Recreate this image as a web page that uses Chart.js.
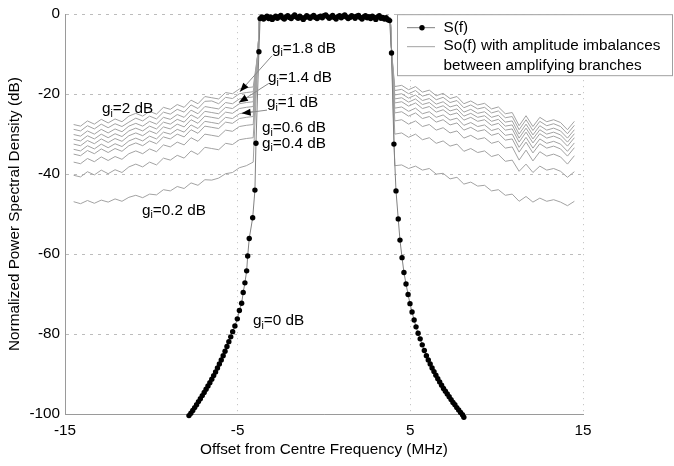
<!DOCTYPE html>
<html>
<head>
<meta charset="utf-8">
<script src="https://cdn.jsdelivr.net/npm/chart.js@4.4.1/dist/chart.umd.min.js"></script>
<style>
html, body { margin: 0; padding: 0; background: #fff; }
</style>
</head>
<body>
<canvas id="psd" width="674" height="466"></canvas>
<script>
// axis ticks
const xTicks = [-15, -5, 5, 15];

// S(f): ideal spectrum (black dots)
const sfX = [
  -7.82, -7.71, -7.60, -7.49, -7.38, -7.27, -7.16, -7.05, -6.94, -6.83, -6.72, -6.61, -6.50, -6.39, -6.28, -6.17, -6.06, -5.95, -5.84, -5.73,
  -5.62, -5.51, -5.40, -5.29, -5.16, -5.02, -4.90, -4.77, -4.68, -4.58, -4.48, -4.42, -4.33, -4.13, -4.00, -3.94, -3.77,
  -3.7, -3.6, -3.5, -3.4, -3.3, -3.2, -3.1, -3.0, -2.9, -2.8, -2.7, -2.6, -2.5, -2.4, -2.3, -2.2, -2.1, -2.0, -1.9, -1.8,
  -1.7, -1.6, -1.5, -1.4, -1.3, -1.2, -1.1, -1.0, -0.9, -0.8, -0.7, -0.6, -0.5, -0.4, -0.3, -0.2, -0.1, 0.0, 0.1, 0.2,
  0.3, 0.4, 0.5, 0.6, 0.7, 0.8, 0.9, 1.0, 1.1, 1.2, 1.3, 1.4, 1.5, 1.6, 1.7, 1.8, 1.9, 2.0, 2.1, 2.2,
  2.3, 2.4, 2.5, 2.6, 2.7, 2.8, 2.9, 3.0, 3.1, 3.2, 3.3, 3.4, 3.5, 3.6, 3.7, 3.8,
  3.91, 4.05, 4.17, 4.30, 4.40, 4.52, 4.63, 4.75, 4.87, 4.98, 5.10, 5.22, 5.33, 5.45, 5.57, 5.69, 5.81, 5.93, 6.04, 6.15,
  6.26, 6.37, 6.48, 6.59, 6.70, 6.81, 6.92, 7.03, 7.14, 7.25, 7.36, 7.47, 7.58, 7.69, 7.80, 7.91, 8.02, 8.10
];
const sfY = [
  -100.4, -99.8, -99.1, -98.4, -97.7, -96.9, -96.2, -95.4, -94.6, -93.8, -93.0, -92.2, -91.3, -90.4, -89.5, -88.5, -87.5, -86.5, -85.4, -84.3,
  -83.1, -81.9, -80.7, -79.4, -78.0, -76.2, -74.1, -72.3, -69.6, -67.2, -64.2, -60.5, -56.1, -50.9, -44.0, -32.3, -9.4,
  -1.1, -0.7, -1.2, -0.8, -0.5, -1.1, -0.7, -1.3, -0.9, -0.5, -1.0, -0.6, -0.3, -0.9, -1.2, -0.7, -0.4, -0.8, -1.1, -0.6,
  -0.2, -0.7, -1.0, -0.5, -0.9, -1.3, -0.8, -0.4, -0.7, -1.0, -0.6, -0.3, -0.8, -1.1, -0.7, -0.5, -0.9, -0.4, -0.2, -0.6,
  -1.0, -0.7, -0.3, -0.8, -1.2, -0.6, -0.4, -0.9, -0.5, -0.2, -0.7, -1.1, -0.8, -0.4, -0.6, -1.0, -0.5, -0.3, -0.8, -1.2,
  -0.7, -0.4, -0.9, -0.6, -1.1, -0.5, -0.8, -1.3, -0.7, -0.4, -1.0, -0.8, -1.2, -0.9, -1.4, -1.6,
  -9.7, -32.5, -44.2, -51.2, -56.5, -60.9, -64.6, -67.5, -70.1, -72.4, -74.5, -76.5, -78.2, -79.8, -81.2, -82.7, -84.1, -85.4, -86.5, -87.5,
  -88.5, -89.4, -90.3, -91.2, -92.0, -92.8, -93.6, -94.3, -95.0, -95.7, -96.4, -97.1, -97.7, -98.4, -99.0, -99.6, -100.2, -100.8
];

// So(f): spectra with amplitude imbalance g_i, shared frequency grid
const soX = [
  -14.5, -14.1, -13.7, -13.3, -12.9, -12.5, -12.1, -11.7, -11.3, -10.9, -10.5, -10.1, -9.7, -9.3, -8.9, -8.5, -8.1, -7.7, -7.3, -6.9, -6.5, -6.1, -5.7, -5.3, -4.9, -4.5, -4.1,
  -3.82, -3.74, 0, 3.84, 3.92,
  4.1, 4.5, 4.9, 5.3, 5.7, 6.1, 6.5, 6.9, 7.3, 7.7, 8.1, 8.5, 8.9, 9.3, 9.7, 10.1, 10.5, 10.9, 11.3, 11.7, 12.1, 12.5, 12.9, 13.3, 13.7, 14.1, 14.5
];
const so20 = [
  -27.6, -28.0, -26.7, -27.5, -26.3, -27.2, -26.2, -26.9, -25.5, -24.8, -25.5, -24.3, -25.0, -23.3, -23.8, -22.6, -23.3, -21.5, -22.4, -20.6, -20.9, -21.2, -19.6, -19.9, -18.7, -18.4, -18.2,
  -9.5, -1.0, -0.8, -1.0, -9.7,
  -18.1, -17.8, -18.9, -18.1, -19.5, -19.0, -20.4, -19.8, -21.1, -20.6, -22.4, -21.7, -22.7, -22.3, -23.7, -23.2, -24.9, -24.6, -27.9, -25.4, -28.1, -25.8, -26.9, -26.4, -27.1, -28.9, -26.8
];
const so18 = [
  -28.8, -29.2, -27.9, -28.7, -27.5, -28.4, -27.4, -28.1, -27.0, -26.0, -26.7, -25.5, -26.2, -24.5, -25.0, -23.8, -24.5, -22.7, -23.6, -21.8, -21.7, -22.4, -20.8, -21.1, -19.9, -19.6, -19.4,
  -9.5, -1.0, -0.8, -1.0, -9.7,
  -19.1, -18.8, -19.9, -19.1, -20.5, -20.0, -21.4, -20.8, -22.1, -21.6, -23.4, -22.7, -23.7, -23.3, -24.7, -24.2, -25.9, -25.6, -28.9, -26.4, -29.1, -26.8, -27.9, -27.4, -28.1, -29.9, -27.8
];
const so16 = [
  -30.1, -30.5, -29.2, -30.0, -28.8, -29.7, -28.7, -29.4, -28.0, -27.3, -28.0, -26.8, -27.5, -25.8, -26.3, -25.1, -25.8, -24.0, -24.9, -23.1, -23.4, -23.7, -22.1, -22.4, -21.2, -20.9, -20.7,
  -9.5, -1.0, -0.8, -1.0, -9.7,
  -20.2, -19.9, -21.0, -20.2, -21.6, -21.1, -22.5, -21.9, -23.2, -22.7, -24.5, -23.8, -24.8, -24.4, -25.8, -25.3, -27.0, -26.7, -30.0, -27.5, -30.2, -27.9, -29.0, -28.5, -29.2, -31.0, -28.9
];
const so14 = [
  -31.3, -31.7, -30.4, -31.2, -30.0, -30.9, -29.9, -30.6, -29.2, -28.5, -29.2, -28.0, -28.7, -27.0, -27.5, -26.3, -27.0, -25.2, -26.1, -24.3, -24.6, -24.9, -23.3, -23.6, -22.4, -22.1, -21.9,
  -9.5, -1.0, -0.8, -1.0, -9.7,
  -21.2, -20.9, -22.0, -21.2, -22.6, -22.1, -23.5, -22.9, -24.2, -23.7, -25.5, -24.8, -25.8, -25.4, -26.8, -26.3, -28.0, -27.7, -31.0, -28.5, -31.2, -28.9, -30.0, -29.5, -30.2, -32.0, -29.9
];
const so12 = [
  -32.5, -32.9, -31.6, -32.4, -31.2, -32.1, -31.1, -31.8, -30.4, -29.7, -30.4, -29.2, -29.9, -28.2, -28.7, -27.5, -28.2, -26.4, -27.3, -25.5, -25.8, -26.1, -24.5, -24.8, -23.6, -23.3, -23.1,
  -9.5, -1.0, -0.8, -1.0, -9.7,
  -22.2, -21.9, -23.0, -22.2, -23.6, -23.1, -24.5, -23.9, -25.2, -24.7, -26.5, -25.8, -26.8, -26.4, -27.8, -27.3, -29.0, -28.7, -32.0, -29.5, -32.2, -29.9, -31.0, -30.5, -31.2, -33.0, -30.9
];
const so10 = [
  -33.8, -34.2, -32.9, -33.7, -32.5, -33.4, -32.4, -33.1, -31.7, -31.0, -31.7, -30.5, -31.2, -29.5, -30.0, -28.8, -29.5, -27.7, -28.6, -26.8, -27.1, -27.4, -25.8, -26.1, -24.9, -24.6, -24.4,
  -9.5, -1.0, -0.8, -1.0, -9.7,
  -23.5, -23.2, -24.3, -23.5, -24.9, -24.4, -25.8, -25.2, -26.5, -26.0, -27.8, -27.1, -28.1, -27.7, -29.1, -28.6, -30.3, -30.0, -33.3, -30.8, -33.5, -31.2, -32.3, -31.8, -32.5, -34.3, -32.2
];
const so08 = [
  -35.0, -35.4, -34.1, -34.9, -33.7, -34.6, -33.6, -34.3, -32.9, -32.2, -32.9, -31.7, -32.4, -30.7, -31.2, -30.0, -30.7, -28.9, -29.8, -28.0, -28.3, -28.6, -27.0, -27.3, -26.1, -25.8, -25.6,
  -9.5, -1.0, -0.8, -1.0, -9.7,
  -24.7, -24.4, -25.5, -24.7, -26.1, -25.6, -27.0, -26.4, -27.7, -27.2, -29.0, -28.3, -29.3, -28.9, -30.3, -29.8, -31.5, -31.2, -34.5, -32.0, -34.7, -32.4, -33.5, -33.0, -33.7, -35.5, -33.4
];
const so06 = [
  -37.0, -37.4, -36.1, -36.9, -35.7, -36.6, -35.6, -36.3, -34.9, -34.2, -34.9, -33.7, -34.4, -32.7, -33.2, -32.0, -32.7, -30.9, -31.8, -30.0, -30.3, -30.6, -29.0, -29.3, -28.1, -27.8, -27.6,
  -9.5, -1.0, -0.8, -1.0, -9.7,
  -26.7, -26.4, -27.5, -26.7, -28.1, -27.6, -29.0, -28.4, -29.7, -29.2, -31.0, -30.3, -31.3, -30.9, -32.3, -31.8, -33.5, -33.2, -36.5, -34.0, -36.7, -34.4, -35.5, -35.0, -35.7, -37.5, -35.4
];
const so04 = [
  -40.3, -40.7, -39.4, -40.2, -39.0, -39.9, -38.9, -39.6, -38.2, -37.5, -38.2, -37.0, -37.7, -36.0, -36.5, -35.3, -36.0, -34.2, -35.1, -33.3, -33.6, -33.9, -32.3, -32.6, -31.4, -31.1, -30.9,
  -9.5, -1.0, -0.8, -1.0, -9.7,
  -30.0, -29.7, -30.8, -30.0, -31.4, -30.9, -32.3, -31.7, -33.0, -32.5, -34.3, -33.6, -34.6, -34.2, -35.6, -35.1, -36.8, -36.5, -39.3, -37.5, -39.6, -38.0, -39.0, -38.6, -39.3, -40.8, -39.4
];
const so02 = [
  -46.9, -47.4, -46.6, -47.3, -46.5, -47.0, -46.2, -46.8, -45.8, -45.3, -45.9, -45.0, -45.2, -43.9, -44.2, -43.1, -43.6, -42.2, -42.8, -41.4, -41.5, -41.0, -39.9, -39.6, -38.4, -37.9, -37.0,
  -9.5, -1.0, -0.8, -1.0, -9.7,
  -37.9, -37.7, -38.6, -38.0, -39.0, -38.6, -40.0, -39.8, -41.2, -40.8, -42.5, -42.0, -43.0, -42.8, -44.2, -43.9, -45.3, -45.0, -46.8, -45.6, -47.0, -46.0, -46.8, -46.4, -47.0, -47.9, -46.8
];
const soSeries = [so20, so18, so16, so14, so12, so10, so08, so06, so04, so02];

// curve labels "g_i=..." (left edge / vertical centre, in data units)
const gainText = ['=1.8 dB', '=1.4 dB', '=1 dB', '=0.6 dB', '=0.4 dB', '=2 dB', '=0.2 dB', '=0 dB'];
const gainX = [-3.01, -3.25, -3.30, -3.59, -3.59, -12.86, -10.54, -4.11];
const gainY = [-8.6, -16.0, -22.2, -28.4, -32.3, -23.7, -49.1, -76.8];
// arrows from the labels to the curves
const arrowTail = [[-3.01, -10.4], [-3.19, -17.3], [-3.30, -24.0]];
const arrowHead = [[-4.87, -19.4], [-4.93, -22.1], [-4.77, -24.8]];

const legendRows = ['S(f)', 'So(f) with amplitude imbalances', 'between amplifying branches'];

const FONT = '"Liberation Sans", Arial, Helvetica, sans-serif';
Chart.defaults.font.family = FONT;
Chart.defaults.color = '#000';

const toPoints = (xs, ys) => xs.map((x, i) => ({ x: x, y: ys[i] }));

const datasets = [{
    data: toPoints(sfX, sfY),
    borderColor: '#808080',
    borderWidth: 1,
    pointRadius: 2.7,
    pointBackgroundColor: '#000',
    pointBorderWidth: 0,
    clip: false
}];
soSeries.forEach(function(ys) {
    datasets.push({
        data: toPoints(soX, ys),
        borderColor: '#a2a2a2',
        borderWidth: 1,
        pointRadius: 0
    });
});

// draws annotations and the legend box
const overlay = {
    id: 'overlay',
    afterDatasetsDraw(chart) {
        const { ctx, chartArea, scales } = chart;
        const sx = scales.x, sy = scales.y;
        ctx.save();

        // arrows
        ctx.lineWidth = 1;
        for (let i = 0; i < arrowTail.length; i++) {
            const x1 = sx.getPixelForValue(arrowTail[i][0]), y1 = sy.getPixelForValue(arrowTail[i][1]);
            const x2 = sx.getPixelForValue(arrowHead[i][0]), y2 = sy.getPixelForValue(arrowHead[i][1]);
            ctx.strokeStyle = '#8a8a8a';
            ctx.beginPath();
            ctx.moveTo(x1, y1);
            ctx.lineTo(x2, y2);
            ctx.stroke();
            const a = Math.atan2(y2 - y1, x2 - x1);
            ctx.fillStyle = '#000';
            ctx.beginPath();
            ctx.moveTo(x2, y2);
            ctx.lineTo(x2 - 9 * Math.cos(a) + 3.5 * Math.sin(a), y2 - 9 * Math.sin(a) - 3.5 * Math.cos(a));
            ctx.lineTo(x2 - 9 * Math.cos(a) - 3.5 * Math.sin(a), y2 - 9 * Math.sin(a) + 3.5 * Math.cos(a));
            ctx.closePath();
            ctx.fill();
        }

        // g_i labels
        ctx.fillStyle = '#000';
        ctx.textBaseline = 'middle';
        ctx.textAlign = 'left';
        for (let i = 0; i < gainText.length; i++) {
            let px = sx.getPixelForValue(gainX[i]);
            const py = sy.getPixelForValue(gainY[i]);
            ctx.font = '15.3px ' + FONT;
            ctx.fillText('g', px, py);
            px += ctx.measureText('g').width;
            ctx.font = '10.5px ' + FONT;
            ctx.fillText('i', px, py + 5);
            px += ctx.measureText('i').width;
            ctx.font = '15.3px ' + FONT;
            ctx.fillText(gainText[i], px, py);
        }

        // legend
        const lx = chartArea.right - 186, ly = chartArea.top, lw = 276, lh = 62;
        ctx.fillStyle = '#fff';
        ctx.fillRect(lx, ly, lw, lh);
        ctx.strokeStyle = '#a0a0a0';
        ctx.strokeRect(lx + 0.5, ly + 0.5, lw - 1, lh - 1);

        ctx.strokeStyle = '#808080';
        ctx.beginPath();
        ctx.moveTo(lx + 10, ly + 13.5);
        ctx.lineTo(lx + 38, ly + 13.5);
        ctx.stroke();
        ctx.fillStyle = '#000';
        ctx.beginPath();
        ctx.arc(lx + 25, ly + 13.5, 2.7, 0, Math.PI * 2);
        ctx.fill();

        ctx.strokeStyle = '#a2a2a2';
        ctx.beginPath();
        ctx.moveTo(lx + 10, ly + 32.5);
        ctx.lineTo(lx + 38, ly + 32.5);
        ctx.stroke();

        ctx.font = '15.3px ' + FONT;
        ctx.fillStyle = '#000';
        ctx.fillText(legendRows[0], lx + 46.5, ly + 13.5);
        ctx.fillText(legendRows[1], lx + 46.5, ly + 32);
        ctx.fillText(legendRows[2], lx + 46.5, ly + 51.5);

        ctx.restore();
    }
};

new Chart(document.getElementById('psd'), {
    type: 'line',
    data: { datasets: datasets },
    options: {
        responsive: false,
        animation: false,
        layout: { padding: { top: 10, right: 91, left: 0, bottom: 0 } },
        elements: { line: { tension: 0 } },
        plugins: {
            legend: { display: false },
            tooltip: { enabled: false }
        },
        scales: {
            x: {
                type: 'linear',
                min: -15,
                max: 15,
                afterBuildTicks: function(scale) {
                    scale.ticks = xTicks.map(v => ({ value: v }));
                },
                afterFit: function(scale) { scale.height = 52; },
                ticks: { autoSkip: false, maxRotation: 0, padding: 8, font: { size: 15.3 }, color: '#000' },
                grid: { color: '#bcbcbc', lineWidth: 1, drawTicks: false },
                border: { display: true, color: '#9a9a9a', width: 1, dash: [1, 5] },
                title: {
                    display: true,
                    text: 'Offset from Centre Frequency (MHz)',
                    font: { size: 15.3 },
                    color: '#000',
                    padding: { top: 0, bottom: 7 }
                }
            },
            y: {
                type: 'linear',
                min: -100,
                max: 0,
                afterFit: function(scale) { scale.width = 65; },
                ticks: { stepSize: 20, padding: 5, font: { size: 15.3 }, color: '#000' },
                grid: { color: '#bcbcbc', lineWidth: 1, drawTicks: false },
                border: { display: true, color: '#9a9a9a', width: 1, dash: [3, 5] },
                title: {
                    display: true,
                    text: 'Normalized Power Spectral Density (dB)',
                    font: { size: 15.3 },
                    color: '#000',
                    padding: { top: 6, bottom: 0 }
                }
            }
        }
    },
    plugins: [overlay]
});
</script>
</body>
</html>
